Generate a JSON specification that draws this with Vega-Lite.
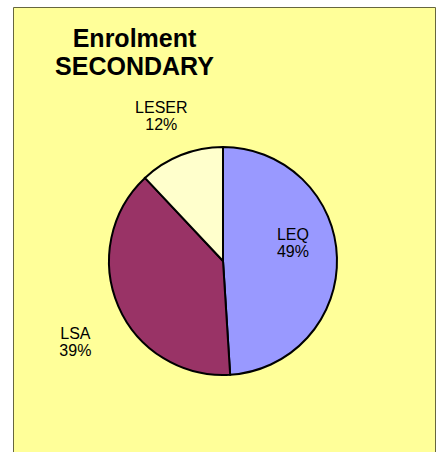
{
  "$schema": "https://vega.github.io/schema/vega-lite/v6.json",
  "width": 422,
  "height": 445,
  "autosize": {"type": "none"},
  "padding": {"left": 13, "top": 7, "right": 1, "bottom": 0},
  "background": "white",
  "view": {"fill": "#FFFF99", "stroke": "#66663f", "strokeWidth": 1},
  "title": {
    "text": ["Enrolment", "SECONDARY"],
    "font": "Liberation Sans",
    "fontSize": 25,
    "fontWeight": "bold",
    "color": "black",
    "anchor": "middle",
    "orient": "top",
    "baseline": "alphabetic",
    "dx": -89.5,
    "offset": -93,
    "lineHeight": 28.5
  },
  "data": {
    "values": [
      {"cat": "LEQ", "value": 49, "label": "LEQ\n49%"},
      {"cat": "LSA", "value": 39, "label": "LSA\n39%"},
      {"cat": "LESER", "value": 12, "label": "LESER\n12%"}
    ]
  },
  "encoding": {
    "theta": {"field": "value", "type": "quantitative", "stack": true},
    "order": {"field": "value", "type": "quantitative", "sort": "descending"}
  },
  "layer": [
    {
      "mark": {"type": "arc", "radius": 114, "stroke": "black", "strokeWidth": 2, "xOffset": -1, "yOffset": 31.5},
      "encoding": {
        "color": {
          "field": "cat",
          "type": "nominal",
          "scale": {"domain": ["LEQ", "LSA", "LESER"], "range": ["#9999FF", "#993366", "#FFFFCC"]},
          "legend": null
        }
      }
    },
    {
      "mark": {"type": "text", "radius": 72, "font": "Liberation Sans", "fontSize": 16, "lineBreak": "\n", "lineHeight": 17, "color": "black", "dx": -3, "dy": 8},
      "encoding": {
        "text": {"field": "label", "type": "nominal"},
        "opacity": {"condition": {"test": "datum.cat === 'LEQ'", "value": 1}, "value": 0}
      }
    },
    {
      "mark": {"type": "text", "radius": 158, "font": "Liberation Sans", "fontSize": 16, "lineBreak": "\n", "lineHeight": 17, "color": "black", "dx": -4.5, "dy": 25},
      "encoding": {
        "text": {"field": "label", "type": "nominal"},
        "opacity": {"condition": {"test": "datum.cat === 'LESER'", "value": 1}, "value": 0}
      }
    },
    {
      "mark": {"type": "text", "radius": 165, "font": "Liberation Sans", "fontSize": 16, "lineBreak": "\n", "lineHeight": 17, "color": "black", "dx": 2.8, "dy": 38.5},
      "encoding": {
        "text": {"field": "label", "type": "nominal"},
        "opacity": {"condition": {"test": "datum.cat === 'LSA'", "value": 1}, "value": 0}
      }
    }
  ]
}
